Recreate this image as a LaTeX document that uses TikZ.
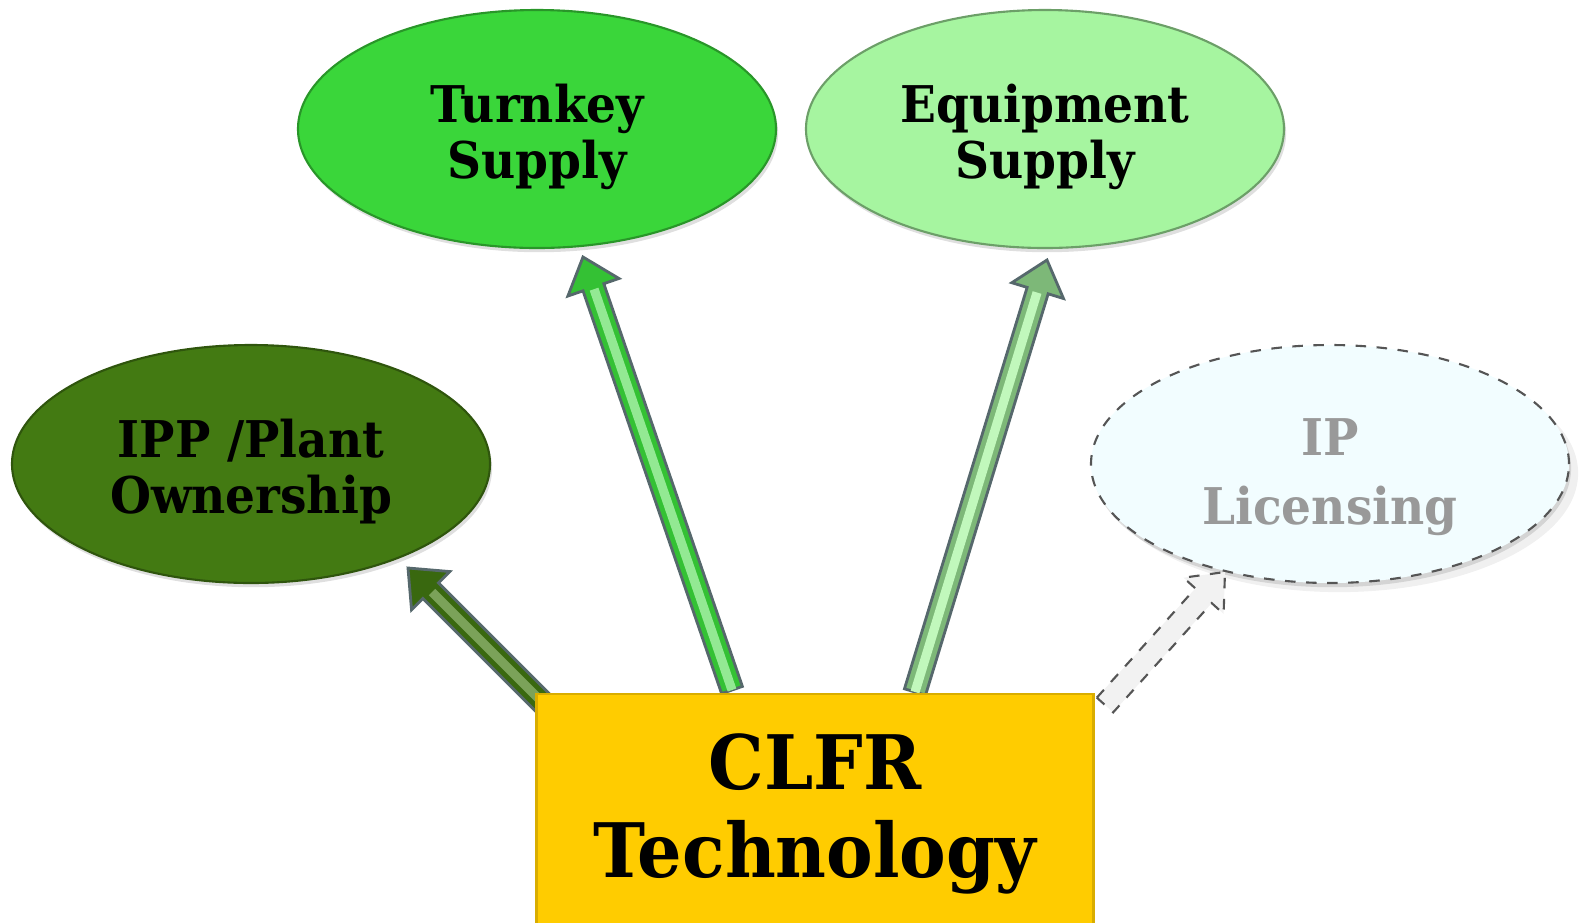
\documentclass[tikz,border=0pt]{standalone}
\usepackage{fontspec}
\setmainfont{DejaVu Serif}[FakeStretch=0.93]
\usetikzlibrary{shapes.geometric, calc, shadows}

\definecolor{turnkeygreen}{HTML}{3AD63A}
\definecolor{equipgreen}{HTML}{A6F5A0}
\definecolor{ippgreen}{HTML}{437A12}
\definecolor{ipfill}{HTML}{F2FDFF}
\definecolor{dashgray}{HTML}{555555}
\definecolor{ipgray}{HTML}{999999}
\definecolor{clfrgold}{HTML}{FFCC00}
\definecolor{edgeslate}{HTML}{56686C}

\tikzset{
  bubble/.style={ellipse, draw, line width=0.6pt, inner sep=0pt,
    minimum width=4.78cm, minimum height=2.38cm, align=center,
    font=\fontsize{14.4}{15.9}\selectfont\bfseries,
    drop shadow={opacity=0.25, shadow xshift=0.6pt, shadow yshift=-1.2pt}},
  techbox/.style={rectangle, draw=clfrgold!85!black, line width=0.6pt, fill=clfrgold,
    minimum width=5.57cm, minimum height=2.4cm, align=center,
    font=\fontsize{21.4}{25}\selectfont\bfseries},
  shaft/.style={draw=edgeslate, line width=0.8pt, line join=miter},
}

% thick block arrow: #1 body style, #2 stripe style, #3 tail, #4 tip
\newcommand{\blockarrow}[4]{%
  \filldraw[shaft, #1]
    ($(#3)!1.1mm!90:(#4)$) --
    ($(#4)!3.2mm!(#3)!1.1mm!-90:(#3)$) --
    ($(#4)!3.2mm!(#3)!2.7mm!-90:(#3)$) --
    (#4) --
    ($(#4)!3.2mm!(#3)!2.7mm!90:(#3)$) --
    ($(#4)!3.2mm!(#3)!1.1mm!90:(#3)$) --
    ($(#3)!1.1mm!-90:(#4)$) -- cycle;
  \draw[line width=2.6pt, #2] (#3) -- ($(#4)!3.4mm!(#3)$);
}

\newcommand{\topstrut}{\rule{0pt}{0.54cm}}

\begin{document}
\begin{tikzpicture}[x=0.1mm, y=-0.1mm]
  \useasboundingbox (0,0) rectangle (1579,922);

  \node[bubble, fill=turnkeygreen, draw=turnkeygreen!70!black] (turnkey) at (537,129) {\topstrut Turnkey\\Supply};
  \node[bubble, fill=equipgreen, draw=equipgreen!65!black] (equip) at (1045,129) {\topstrut Equipment\\Supply};
  \node[bubble, fill=ippgreen, draw=ippgreen!70!black] (ipp) at (251,464) {\topstrut IPP /Plant\\Ownership};
  \node[bubble, fill=ipfill, draw=dashgray, dashed, text=ipgray, drop shadow={opacity=0.12}] (iplic) at (1330,464) {\rule{0pt}{0.63cm}IP\\[1.3mm]Licensing};

  % arrow ends
  \coordinate (ipp-tail) at (545,705);
  \coordinate (ipp-tip) at (408,568);
  \coordinate (tk-tail) at (732,690);
  \coordinate (tk-tip) at (583,257);
  \coordinate (eq-tail) at (915,692);
  \coordinate (eq-tip) at (1047,260);
  \coordinate (ip-tail) at (1105,705);
  \coordinate (ip-tip) at (1225,572);

  \blockarrow{fill=ippgreen!85!black}{ippgreen!70!white}{ipp-tail}{ipp-tip}
  \blockarrow{fill=turnkeygreen!90!black}{turnkeygreen!55!white}{tk-tail}{tk-tip}
  \blockarrow{fill=equipgreen!75!black}{equipgreen!70!white}{eq-tail}{eq-tip}
  \blockarrow{fill=black!5, draw=dashgray, dashed, line width=0.6pt}{draw=none}{ip-tail}{ip-tip}

  \node[techbox] (clfr) at (815,814) {CLFR\\Technology};
\end{tikzpicture}
\end{document}
